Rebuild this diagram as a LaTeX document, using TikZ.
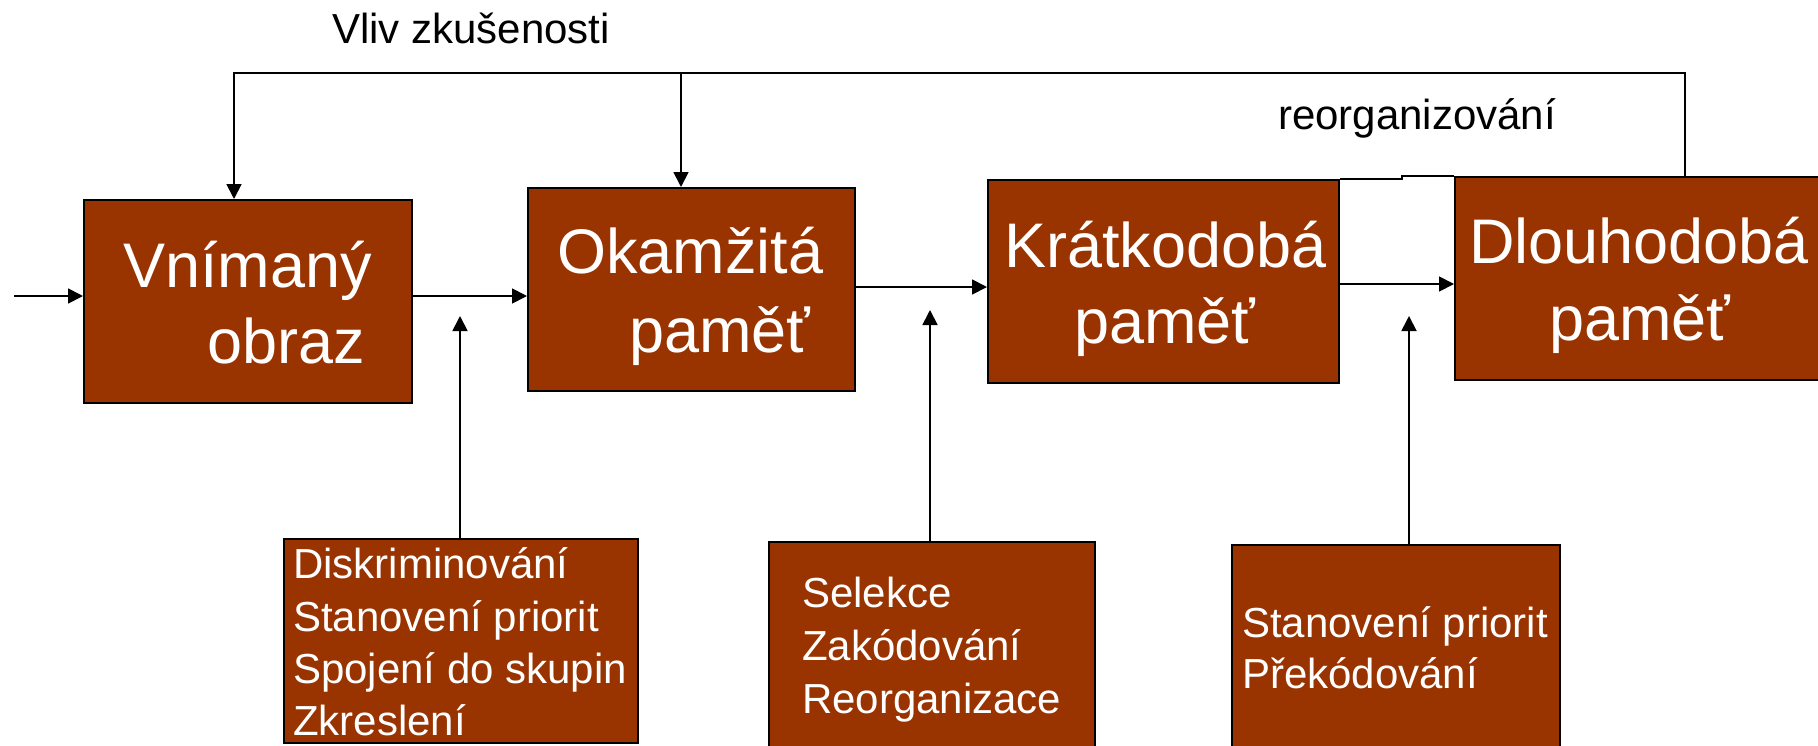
\documentclass[tikz,border=0pt]{standalone}
\usepackage{fontspec}
\setmainfont{Liberation Sans}
\usetikzlibrary{arrows.meta}
\definecolor{boxbrown}{HTML}{993300}
\begin{document}
\begin{tikzpicture}[x=1pt,y=-1pt,
  box/.style={draw=black, line width=2pt, fill=boxbrown, inner sep=0pt, rectangle},
  big/.style={text=white, font=\fontsize{63}{70}\selectfont, anchor=base west, inner sep=0pt},
  small/.style={text=white, font=\fontsize{42}{50}\selectfont, anchor=base west, inner sep=0pt},
  lbl/.style={text=black, font=\fontsize{42}{50}\selectfont, anchor=base west, inner sep=0pt},
  conn/.style={line width=1.8pt},
  arr/.style={conn, -{Triangle[length=15pt,width=15pt]}}]
\useasboundingbox (0,0) rectangle (1818,745);
\clip (0,0) rectangle (1818,745);
% boxes
\node[box, minimum width=328pt, minimum height=203pt] (V) at (248,301.5) {};
\node[box, minimum width=327pt, minimum height=203pt] (O) at (691.5,289.5) {};
\node[box, minimum width=351pt, minimum height=203pt] (K) at (1163.5,281.5) {};
\node[box, minimum width=380pt, minimum height=203pt] (D) at (1645,278.5) {};
\node[box, minimum width=354pt, minimum height=204pt] (B1) at (461,641) {};
\node[box, minimum width=326pt, minimum height=218pt] (B2) at (932,651) {};
\node[box, minimum width=328pt, minimum height=215pt] (B3) at (1396,652.5) {};
% big texts
\node[big] (t1a) at (123,287) {Vnímaný};
\node[big] (t1b) at (207,363) {obraz};
\node[big] (t2a) at (557,273) {Okamžitá};
\node[big] (t2b) at (629,352) {paměť};
\node[big] (t3a) at (1004,267) {Krátkodobá};
\node[big] (t3b) at (1074,343) {paměť};
\node[big] (t4a) at (1469,263) {Dlouhodobá};
\node[big] (t4b) at (1549,340) {paměť};
% small texts
\node[small] (s1a) at (293,578) {Diskriminování};
\node[small] (s1b) at (293,631) {Stanovení priorit};
\node[small] (s1c) at (293,683) {Spojení do skupin};
\node[small] (s1d) at (293,735) {Zkreslení};
\node[small] (s2a) at (802,607) {Selekce};
\node[small] (s2b) at (802,660) {Zakódování};
\node[small] (s2c) at (802,713) {Reorganizace};
\node[small] (s3a) at (1242,637) {Stanovení priorit};
\node[small] (s3b) at (1242,688) {Překódování};
% labels
\node[lbl] (l1) at (332,43) {Vliv zkušenosti};
\node[lbl] (l2) at (1278,129) {reorganizování};
% coordinates
\coordinate (in) at (14,296);
\coordinate (vo) at (0,296);
\coordinate (ok) at (0,287);
\coordinate (kd) at (0,284);
\coordinate (tr) at (1685,73);
\coordinate (tl) at (234,73);
\coordinate (tm) at (681,73);
\coordinate (u1) at (460,316);
\coordinate (u2) at (930,310);
\coordinate (u3) at (1409,316);
\coordinate (st) at (1402,0);
% connectors
\draw[arr] (in) -- (in -| V.west);
\draw[arr] (V.east |- vo) -- (O.west |- vo);
\draw[arr] (O.east |- ok) -- (K.west |- ok);
\draw[arr] (K.east |- kd) -- (D.west |- kd);
\draw[arr] (D.north -| tr) -- (tr) -- (tl) -- (V.north -| tl);
\draw[arr] (tm) -- (O.north -| tm);
\draw[arr] (B1.north -| u1) -- (u1);
\draw[arr] (B2.north -| u2) -- (u2);
\draw[arr] (B3.north -| u3) -- (u3);
\draw[conn] (K.north east) -- (K.north east -| st) -- (D.north west -| st) -- (D.north west);
\end{tikzpicture}
\end{document}
